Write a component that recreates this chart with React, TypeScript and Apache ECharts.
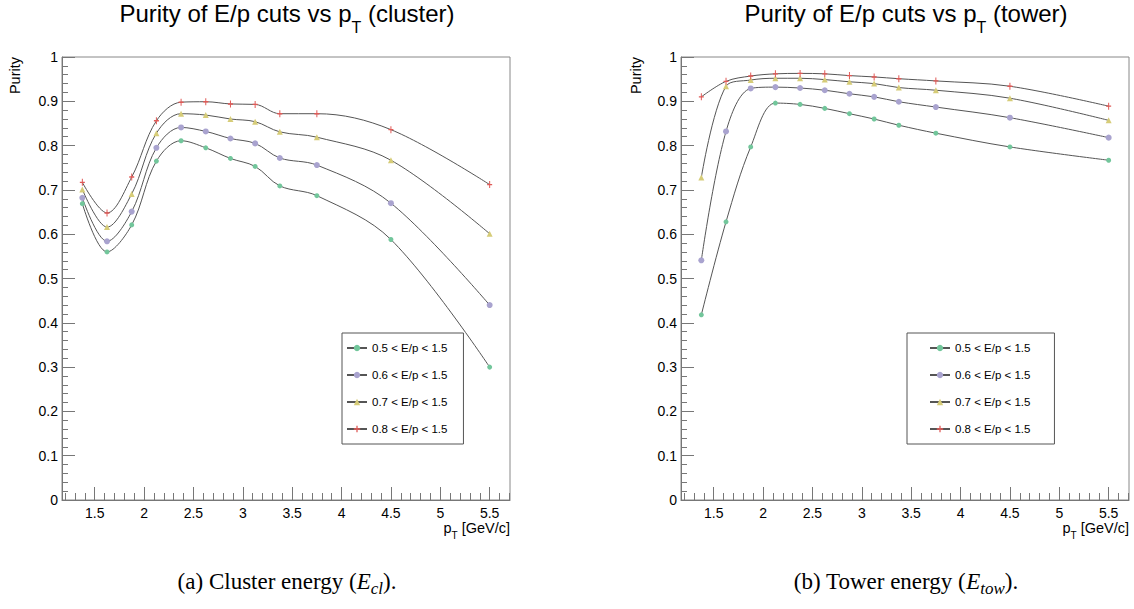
import React, { useEffect, useRef } from 'react';
import * as echarts from 'echarts';

// pT bin centres (GeV/c) shared by both panels
const ptBins = [1.375, 1.625, 1.875, 2.125, 2.375, 2.625, 2.875, 3.125, 3.375, 3.75, 4.5, 5.5];

const cutNames = ['0.5 < E/p < 1.5', '0.6 < E/p < 1.5', '0.7 < E/p < 1.5', '0.8 < E/p < 1.5'];

// Purity using cluster energy
const clusterPurity05 = [0.669, 0.560, 0.621, 0.765, 0.811, 0.795, 0.771, 0.753, 0.709, 0.687, 0.588, 0.300];
const clusterPurity06 = [0.682, 0.584, 0.651, 0.795, 0.841, 0.832, 0.816, 0.805, 0.772, 0.756, 0.670, 0.440];
const clusterPurity07 = [0.701, 0.616, 0.691, 0.828, 0.872, 0.869, 0.860, 0.854, 0.831, 0.819, 0.767, 0.601];
const clusterPurity08 = [0.717, 0.648, 0.729, 0.856, 0.898, 0.899, 0.894, 0.893, 0.872, 0.872, 0.836, 0.712];

// Purity using tower energy
const towerPurity05 = [0.418, 0.628, 0.797, 0.896, 0.893, 0.884, 0.872, 0.860, 0.846, 0.828, 0.797, 0.767];
const towerPurity06 = [0.541, 0.832, 0.929, 0.932, 0.930, 0.925, 0.917, 0.910, 0.899, 0.887, 0.863, 0.818];
const towerPurity07 = [0.728, 0.934, 0.948, 0.952, 0.952, 0.949, 0.944, 0.940, 0.931, 0.925, 0.907, 0.857];
const towerPurity08 = [0.910, 0.945, 0.957, 0.962, 0.963, 0.962, 0.958, 0.955, 0.951, 0.946, 0.934, 0.889];

const xMajorTicks = [1.5, 2, 2.5, 3, 3.5, 4, 4.5, 5, 5.5];
const xMinorTicks = [
  1.2, 1.3, 1.4, 1.6, 1.7, 1.8, 1.9, 2.1, 2.2, 2.3, 2.4, 2.6, 2.7, 2.8, 2.9,
  3.1, 3.2, 3.3, 3.4, 3.6, 3.7, 3.8, 3.9, 4.1, 4.2, 4.3, 4.4, 4.6, 4.7, 4.8, 4.9,
  5.1, 5.2, 5.3, 5.4, 5.6, 5.7,
];

const X_MIN = 1.169;
const X_MAX = 5.706;

const SANS = '"Liberation Sans", Arial, Helvetica, sans-serif';
const SERIF = '"Liberation Serif", "Times New Roman", serif';

const markerColors = ['#72c69b', '#a9a3cf', '#d6cc78', '#e05a57'];
const plusPath = 'path://M2,0 L3,0 L3,2 L5,2 L5,3 L3,3 L3,5 L2,5 L2,3 L0,3 L0,2 L2,2 Z';
const markerSymbols = ['circle', 'circle', 'triangle', plusPath];
const markerSizes: any[] = [5, 6, 6, [5, 7]];

const AXIS_GREY = '#777';
const LINE_GREY = '#555';

type Run = { text: string; size: number; dy?: number; italic?: boolean; family: string };

let measureCtx: CanvasRenderingContext2D | null = null;
function fontOf(r: Run) {
  return `${r.italic ? 'italic ' : ''}${r.size}px ${r.family}`;
}
function textWidth(text: string, font: string) {
  if (!measureCtx) measureCtx = document.createElement('canvas').getContext('2d');
  measureCtx!.font = font;
  return measureCtx!.measureText(text).width;
}

// Lay out a line of mixed-size text (for subscripts) starting from a baseline
function runElements(runs: Run[], anchorX: number, baseline: number, align: 'center' | 'right') {
  const widths = runs.map((r) => textWidth(r.text, fontOf(r)));
  const total = widths.reduce((a, b) => a + b, 0);
  let x = align === 'center' ? anchorX - total / 2 : anchorX - total;
  return runs.map((r, i) => {
    const el = {
      type: 'text',
      x,
      y: baseline - 0.35 * r.size + (r.dy || 0),
      silent: true,
      style: {
        text: r.text,
        font: fontOf(r),
        fill: '#000',
        align: 'left',
        verticalAlign: 'middle',
      },
    };
    x += widths[i];
    return el;
  });
}

const panels = [
  {
    left: 62, width: 448, label: 'cluster',
    data: [clusterPurity05, clusterPurity06, clusterPurity07, clusterPurity08],
    legendLeft: 342, legendPad: [9, 16, 9, 4], yNameX: 15, centre: 287,
    caption: 'a', captionWord: 'Cluster', sub: 'cl',
  },
  {
    left: 681, width: 448, label: 'tower',
    data: [towerPurity05, towerPurity06, towerPurity07, towerPurity08],
    legendLeft: 907, legendPad: [9, 24, 9, 22], yNameX: 636, centre: 906,
    caption: 'b', captionWord: 'Tower', sub: 'tow',
  },
];
const GRID_TOP = 57;
const GRID_H = 443;

function buildOption() {
  const grid: any[] = [];
  const xAxis: any[] = [];
  const yAxis: any[] = [];
  const series: any[] = [];
  const legend: any[] = [];
  const graphic: any[] = [];

  panels.forEach((p, gi) => {
    grid.push({
      left: p.left,
      top: GRID_TOP,
      width: p.width,
      height: GRID_H,
      show: true,
      borderColor: '#888',
      borderWidth: 1,
      backgroundColor: 'transparent',
    });
    // major x axis with labels
    xAxis.push({
      gridIndex: gi,
      type: 'value',
      position: 'bottom',
      min: X_MIN,
      max: X_MAX,
      splitLine: { show: false },
      axisLine: { show: true, onZero: false, lineStyle: { color: AXIS_GREY, width: 1 } },
      axisTick: { show: true, inside: true, length: 13, customValues: xMajorTicks, lineStyle: { color: AXIS_GREY } },
      axisLabel: {
        customValues: xMajorTicks,
        margin: 6,
        fontSize: 14,
        fontFamily: SANS,
        color: '#000',
        formatter: (v: number) => String(v),
      },
    });
    // minor x ticks
    xAxis.push({
      gridIndex: gi,
      type: 'value',
      position: 'bottom',
      min: X_MIN,
      max: X_MAX,
      splitLine: { show: false },
      axisLine: { show: false, onZero: false },
      axisTick: { show: true, inside: true, length: 7, customValues: xMinorTicks, lineStyle: { color: AXIS_GREY } },
      axisLabel: { show: false, customValues: xMinorTicks },
    });
    yAxis.push({
      gridIndex: gi,
      type: 'value',
      min: 0,
      max: 1,
      interval: 0.1,
      splitLine: { show: false },
      axisLine: { show: true, onZero: false, lineStyle: { color: AXIS_GREY, width: 1 } },
      axisTick: { show: true, inside: true, length: 13, lineStyle: { color: AXIS_GREY } },
      minorTick: { show: true, splitNumber: 5, length: 6, lineStyle: { color: AXIS_GREY } },
      axisLabel: { margin: 4, fontSize: 14, fontFamily: SANS, color: '#000' },
    });

    p.data.forEach((vals, si) => {
      series.push({
        type: 'line',
        name: cutNames[si],
        xAxisIndex: gi * 2,
        yAxisIndex: gi,
        data: ptBins.map((x, i) => [x, vals[i]]),
        smooth: 0.35,
        symbol: markerSymbols[si],
        symbolSize: markerSizes[si],
        showSymbol: true,
        itemStyle: { color: markerColors[si] },
        lineStyle: { color: LINE_GREY, width: 1 },
        z: 3,
      });
    });

    legend.push({
      data: cutNames,
      orient: 'vertical',
      left: p.legendLeft,
      top: 333,
      padding: p.legendPad,
      itemGap: 15,
      itemWidth: 20,
      itemHeight: 8,
      borderColor: '#555',
      borderWidth: 1,
      selectedMode: false,
      textStyle: { fontSize: 11.5, fontFamily: SANS, color: '#000' },
    });

    // panel title
    graphic.push(
      ...runElements(
        [
          { text: 'Purity of E/p cuts vs p', size: 24, family: SANS },
          { text: 'T', size: 16, dy: 11, family: SANS },
          { text: ` (${p.label})`, size: 24, family: SANS },
        ],
        p.centre,
        22,
        'center'
      )
    );
    // x-axis title
    graphic.push(
      ...runElements(
        [
          { text: 'p', size: 14.5, family: SANS },
          { text: 'T', size: 10, dy: 6, family: SANS },
          { text: ' [GeV/c]', size: 14.5, family: SANS },
        ],
        p.left + p.width,
        533,
        'right'
      )
    );
    // y-axis title
    graphic.push({
      type: 'text',
      x: p.yNameX,
      y: GRID_TOP,
      rotation: Math.PI / 2,
      silent: true,
      style: { text: 'Purity', font: `14.5px ${SANS}`, fill: '#000', align: 'right', verticalAlign: 'middle' },
    });
    // sub-figure caption
    graphic.push(
      ...runElements(
        [
          { text: `(${p.caption}) ${p.captionWord} energy (`, size: 23, family: SERIF },
          { text: 'E', size: 23, italic: true, family: SERIF },
          { text: p.sub, size: 17, italic: true, dy: 4, family: SERIF },
          { text: ').', size: 23, family: SERIF },
        ],
        p.centre,
        590,
        'center'
      )
    );
  });

  return {
    animation: false,
    backgroundColor: '#fff',
    grid,
    xAxis,
    yAxis,
    series,
    legend,
    graphic,
  };
}

export default function App() {
  const ref = useRef<HTMLDivElement>(null);
  useEffect(() => {
    if (!ref.current) return;
    const chart = echarts.init(ref.current, undefined, { renderer: 'svg' });
    chart.setOption(buildOption() as any);
    return () => chart.dispose();
  }, []);
  return (
    <div
      ref={ref}
      style={{ position: 'absolute', left: 0, top: 0, width: 1134, height: 609, background: '#fff' }}
    />
  );
}
